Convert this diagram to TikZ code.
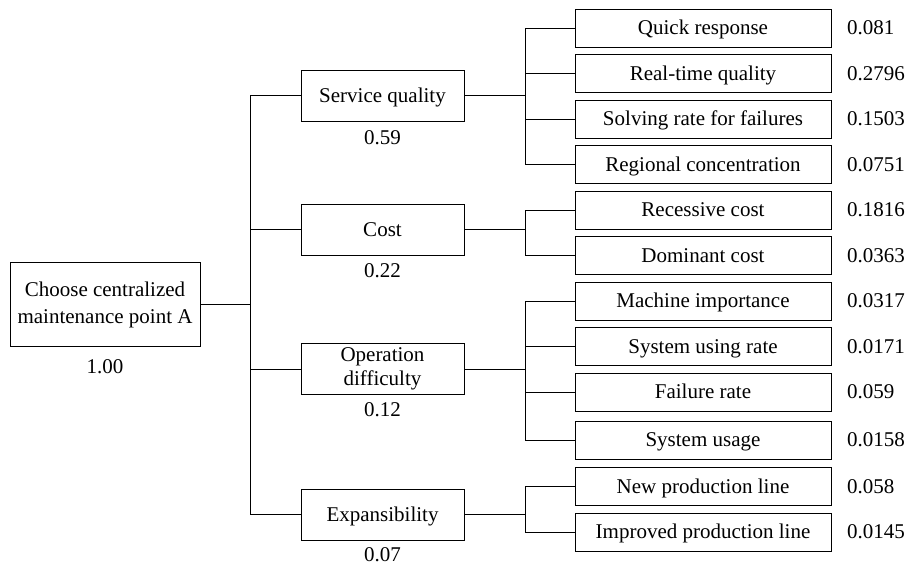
\documentclass[tikz,border=0pt]{standalone}
\usepackage{fontspec}
\setmainfont{Liberation Serif}
\usetikzlibrary{calc, positioning}

\begin{document}
\begin{tikzpicture}[x=1pt, y=-1pt, node distance=7.5pt, font=\fontsize{21}{24}\selectfont]

% Define block styles
\tikzstyle{goal} = [rectangle, draw, line width=1pt, outer sep=0pt,
minimum width=190pt, minimum height=84pt, align=center, inner sep=0pt]
\tikzstyle{crit} = [rectangle, draw, line width=1pt, outer sep=0pt,
minimum width=163pt, minimum height=51pt, align=center, inner sep=0pt]
\tikzstyle{oneline} = [text height=13pt, text depth=0pt]
\tikzstyle{sub} = [rectangle, draw, line width=1pt, outer sep=0pt,
minimum width=256pt, minimum height=38pt, inner sep=0pt, oneline]
\tikzstyle{weight} = [inner sep=0pt]
\tikzstyle{line} = [draw, line width=1pt]

\useasboundingbox (0,0) rectangle (911,565);

% Nodes
\node [goal] (goal) at (105,304.5) {Choose centralized\\[3pt]maintenance point A};
\node [weight, below=13pt of goal] (wgoal) {1.00};

\node [crit, oneline] (sq) at (382.5,95.5) {Service quality};
\node [crit, oneline] (cost) at (382.5,229.5) {Cost};
\node [crit] (op) at (382.5,369) {Operation\\difficulty};
\node [crit, oneline] (ex) at (382.5,514.5) {Expansibility};
\node [weight, below=9pt of sq] (wsq) {0.59};
\node [weight, below=8pt of cost] (wcost) {0.22};
\node [weight, below=8pt of op] (wop) {0.12};
\node [weight, below=7pt of ex] (wex) {0.07};

\node [sub] (qr) at (703,28) {Quick response};
\node [sub, below=of qr] (rt) {Real-time quality};
\node [sub, below=of rt] (sr) {Solving rate for failures};
\node [sub, below=of sr] (rc) {Regional concentration};
\node [sub, below=of rc] (rec) {Recessive cost};
\node [sub, below=of rec] (dom) {Dominant cost};
\node [sub, below=of dom] (mi) {Machine importance};
\node [sub, below=of mi] (sur) {System using rate};
\node [sub, below=of sur] (fr) {Failure rate};
\node [sub, below=10pt of fr] (su) {System usage};
\node [sub, below=8.5pt of su] (npl) {New production line};
\node [sub, below=of npl] (ipl) {Improved production line};

\node [weight, right=16pt of qr] (wqr) {0.081};
\node [weight, right=16pt of rt] (wrt) {0.2796};
\node [weight, right=16pt of sr] (wsr) {0.1503};
\node [weight, right=16pt of rc] (wrc) {0.0751};
\node [weight, right=16pt of rec] (wrec) {0.1816};
\node [weight, right=16pt of dom] (wdom) {0.0363};
\node [weight, right=16pt of mi] (wmi) {0.0317};
\node [weight, right=16pt of sur] (wsur) {0.0171};
\node [weight, right=16pt of fr] (wfr) {0.059};
\node [weight, right=16pt of su] (wsu) {0.0158};
\node [weight, right=16pt of npl] (wnpl) {0.058};
\node [weight, right=16pt of ipl] (wipl) {0.0145};

% Paths
\coordinate (bus) at ($(goal.east)+(50,0)$);
\path [line] (goal.east) -- (bus);
\foreach \c in {sq,cost,op,ex}
  \path [line] (bus) |- (\c.west);

\coordinate (bsq) at ($(sq.east)+(61,0)$);
\path [line] (sq.east) -- (bsq);
\foreach \s in {qr,rt,sr,rc}
  \path [line] (bsq) |- (\s.west);

\coordinate (bcost) at ($(cost.east)+(61,0)$);
\path [line] (cost.east) -- (bcost);
\foreach \s in {rec,dom}
  \path [line] (bcost) |- (\s.west);

\coordinate (bop) at ($(op.east)+(61,0)$);
\path [line] (op.east) -- (bop);
\foreach \s in {mi,sur,fr,su}
  \path [line] (bop) |- (\s.west);

\coordinate (bex) at ($(ex.east)+(61,0)$);
\path [line] (ex.east) -- (bex);
\foreach \s in {npl,ipl}
  \path [line] (bex) |- (\s.west);
\end{tikzpicture}
\end{document}
